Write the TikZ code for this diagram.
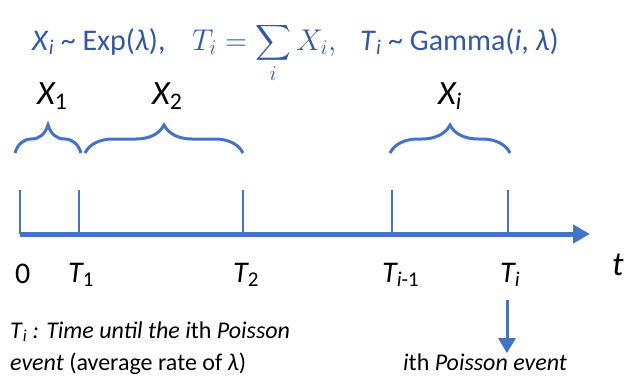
\RequirePackage{fix-cm}
\documentclass[tikz,border=0pt]{standalone}
\usepackage{exscale}
\usepackage{fontspec}
\setmainfont{Carlito}
\usetikzlibrary{arrows.meta, decorations.pathreplacing}
\definecolor{axisblue}{RGB}{68,114,196}
\definecolor{textblue}{RGB}{52,88,160}

\begin{document}
\begin{tikzpicture}[x=1pt, y=-1pt,
  timeaxis/.style={-{Triangle[length=17pt, width=18pt]}, line width=5pt, axisblue},
  tickline/.style={line width=2pt, axisblue},
  gap/.style={decorate, decoration={brace, amplitude=28pt}, line width=3pt, axisblue},
  eqtext/.style={anchor=base west, inner sep=0pt, text=textblue, font=\fontsize{30}{36}\selectfont},
  varlabel/.style={anchor=base west, inner sep=0pt, font=\fontsize{34}{40}\selectfont\itshape},
  timelabel/.style={anchor=base west, inner sep=0pt, font=\fontsize{30}{36}\selectfont\itshape},
  note/.style={inner sep=0pt, font=\fontsize{24}{32}\selectfont},
  evarr/.style={-{Triangle[length=15pt, width=17pt]}, line width=3pt, axisblue}
]
\useasboundingbox (0,0) rectangle (636,383);
% === Top line: distributions ===
\node[eqtext] (expdist) at (32,50) {\textit{X}\textsubscript{\textit{i}} \textasciitilde{} Exp(\textit{λ}),};
\node[eqtext] (sumdef) at (192,50) {$T_i = \displaystyle\sum_i X_i,$};
\node[eqtext] (gammadist) at (360,50) {\textit{T}\textsubscript{\textit{i}} \textasciitilde{} Gamma(\textit{i}, \textit{λ})};
% === Waiting times ===
\node[varlabel] (x1) at (37,104) {X\textsubscript{\upshape 1}};
\node[varlabel] (x2) at (152,104) {X\textsubscript{\upshape 2}};
\node[varlabel] (xi) at (438,104) {X\textsubscript{i}};
\coordinate (g1a) at (15,153);
\coordinate (g1b) at (81,153);
\coordinate (g2a) at (85,153);
\coordinate (g2b) at (243,153);
\coordinate (g3a) at (390,153);
\coordinate (g3b) at (510,153);
\draw[gap] (g1a) -- (g1b);
\draw[gap] (g2a) -- (g2b);
\draw[gap] (g3a) -- (g3b);
% === Time axis with event ticks ===
\coordinate (t0) at (20,234);
\coordinate (t1) at (79,234);
\coordinate (t2) at (243,234);
\coordinate (tim) at (392,234);
\coordinate (ti) at (508,234);
\coordinate (tend) at (590,234);
\foreach \p in {t0,t1,t2,tim,ti}
  \draw[tickline] (\p) -- ++(0,-44);
\draw[timeaxis] (t0) -- (tend);
% === Axis labels ===
\node[timelabel] (l0) at (15,283) {\upshape 0};
\node[timelabel] (l1) at (68,282) {T\textsubscript{\upshape 1}};
\node[timelabel] (l2) at (233,282) {T\textsubscript{\upshape 2}};
\node[timelabel] (lim) at (382,282) {T\textsubscript{i\upshape -1}};
\node[timelabel] (li) at (500,282) {T\textsubscript{i}};
\node[varlabel] (lt) at (612,275) {t};
% === Notes ===
\node[note, anchor=base west, align=left] (def) at (10,370)
  {\textit{T}\textsubscript{\textit{i}}\textit{ : Time until the }\textit{i}th \textit{Poisson}\\
   \textit{event} (average rate of \textit{λ})};
\node[note, anchor=base west] (event) at (403,370) {\textit{i}th \textit{Poisson event}};
\coordinate (evtop) at (507,300);
\draw[evarr] (evtop) -- (evtop |- event.north);
\end{tikzpicture}
\end{document}
